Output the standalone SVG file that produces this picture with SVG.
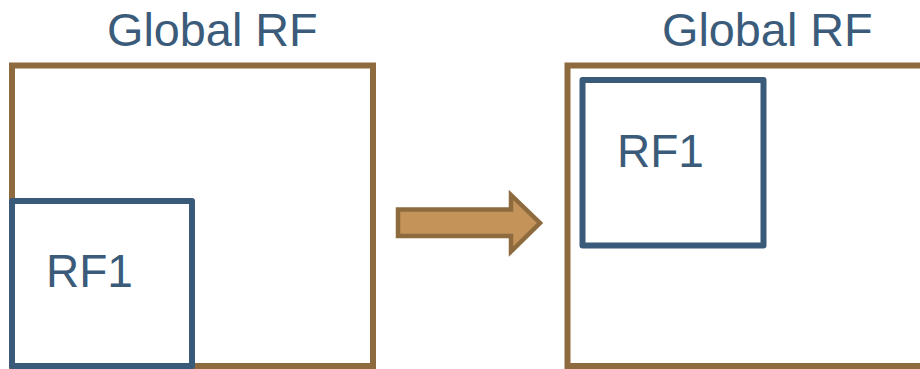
<svg xmlns="http://www.w3.org/2000/svg" width="920" height="369" viewBox="0 0 920 369">
<style>
text{font-family:"Liberation Sans",Arial,sans-serif;fill:#3B5B7B;font-size:46px}
.t{font-size:46.8px}
.g{fill:none;stroke:#8E6B3E;stroke-width:6}
.b{fill:#fff;stroke:#3A5A7A;stroke-width:6;stroke-linejoin:round}
</style>
<rect width="920" height="369" fill="#fff"/>
<g id="left-global">
<rect class="g" x="12" y="65.5" width="361" height="300.5"/>
<text class="t" x="107" y="46">Global RF</text>
</g>
<g id="left-rf1">
<rect class="b" x="12" y="201" width="180" height="165"/>
<text x="46" y="287">RF1</text>
</g>
<g id="connectors">
<polygon points="398,209.5 511,209.5 511,195 540,223 511,251.5 511,236 398,236" fill="#C3935A" stroke="#8E6B3E" stroke-width="4.5"/>
</g>
<g id="right-global">
<rect class="g" x="567.5" y="65.5" width="400" height="300.5"/>
<text class="t" x="662" y="46">Global RF</text>
</g>
<g id="right-rf1">
<rect class="b" x="582.5" y="80" width="181" height="165.5"/>
<text x="617" y="167">RF1</text>
</g>
</svg>
